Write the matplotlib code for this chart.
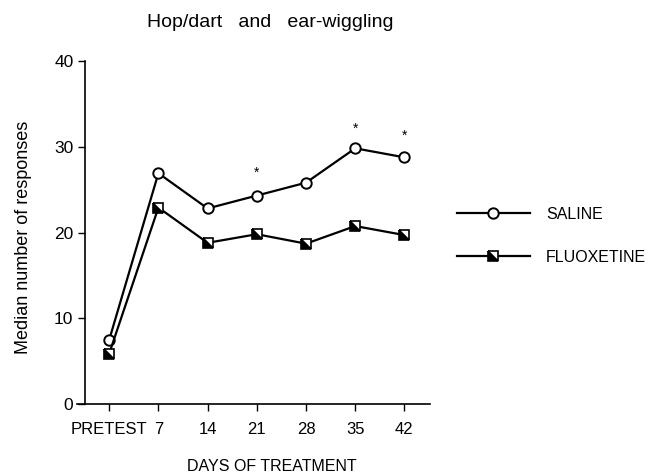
import matplotlib
matplotlib.use("Agg")
import matplotlib.pyplot as plt
from matplotlib.markers import MarkerStyle
from matplotlib.transforms import Affine2D

plt.rcParams['font.family'] = ['Liberation Sans', 'DejaVu Sans']

# Данные
days = ['PRETEST', '7', '14', '21', '28', '35', '42']
saline = [7.5, 26.9, 22.8, 24.3, 25.8, 29.8, 28.75]
fluoxetine = [5.9, 22.9, 18.8, 19.8, 18.7, 20.75, 19.7]

# Звёздочки значимости: индекс дня и высота
star_idx = [3, 5, 6]
star_y = [27.0, 32.1, 31.3]

x = list(range(len(days)))

fig = plt.figure(figsize=(6.63, 4.76), dpi=100)
ax = fig.add_axes([0.1157, 0.1506, 0.5329, 0.7219])

# квадрат с чёрной нижней левой половиной (по диагонали)
half_sq = MarkerStyle('D', fillstyle='left', transform=Affine2D().rotate_deg(45))

l_sal, = ax.plot(x, saline, color='black', lw=1.6, marker='o', ms=7.5,
                 mfc='white', mec='black', mew=1.4, label='SALINE', zorder=3)
l_flu, = ax.plot(x, fluoxetine, color='black', lw=1.6, marker=half_sq, ms=7,
                 mfc='black', mfcalt='white', mec='black', mew=1.2,
                 label='FLUOXETINE', zorder=3)

for i, yy in zip(star_idx, star_y):
    ax.text(x[i], yy, '*', ha='center', va='center', fontsize=10)

ax.set_xlim(-0.66, 6.52)
ax.set_ylim(0, 40)
ax.spines['top'].set_visible(False)
ax.spines['right'].set_visible(False)
ax.spines['left'].set_position(('data', -0.5))
ax.spines['left'].set_linewidth(1.2)
ax.spines['bottom'].set_linewidth(1.2)

ax.set_xticks(x)
ax.set_xticklabels(days)
ax.set_yticks([0, 10, 20, 30, 40])
ax.tick_params(axis='x', direction='out', length=5, width=1, pad=8, labelsize=12)
ax.tick_params(axis='y', direction='out', length=5, width=1, pad=3, labelsize=12.5)

ax.set_ylabel('Median number of responses', fontsize=13)
ax.yaxis.set_label_coords(-0.1265, 0.485)
ax.set_xlabel('DAYS OF TREATMENT', fontsize=11.5)
ax.xaxis.set_label_coords(0.553, -0.16)

ax.text(0.547, 1.11, 'Hop/dart   and   ear-wiggling', transform=ax.transAxes,
        ha='center', va='center', fontsize=14)

ax.legend(handles=[l_sal, l_flu], loc='center left',
          bbox_to_anchor=(1.035, 0.49), frameon=False, fontsize=11.5,
          handlelength=4.6, handletextpad=1.0, labelspacing=1.75)

fig.savefig('out.png', dpi=100)
